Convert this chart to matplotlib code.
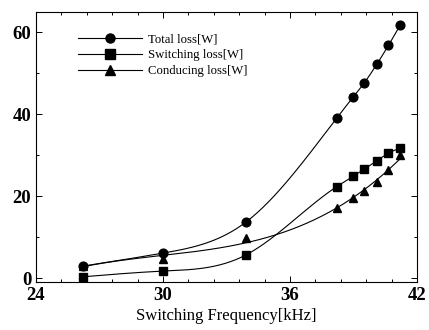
import numpy as np
import matplotlib.pyplot as plt
from matplotlib.ticker import MultipleLocator

# %% Data

freq = np.array([26.2, 30.0, 33.9, 38.2, 39.0, 39.5, 40.1, 40.65, 41.2])
total_loss = np.array([2.9, 6.1, 13.6, 39.0, 44.3, 47.6, 52.2, 56.8, 61.7])
switching_loss = np.array([0.3, 1.7, 5.6, 22.3, 24.9, 26.6, 28.6, 30.5, 31.7])
conducting_loss = np.array([3.0, 4.6, 9.8, 17.0, 19.5, 21.2, 23.4, 26.3, 30.0])

labels = ["Total loss[W]", "Switching loss[W]", "Conducing loss[W]"]
markers = ["o", "s", "^"]


# %% Natural cubic spline (numpy only)

def spline(x, y, xs):
    n = len(x)
    h = np.diff(x)
    A = np.zeros((n - 2, n - 2))
    r = np.zeros(n - 2)
    for i in range(1, n - 1):
        A[i - 1, i - 1] = 2 * (h[i - 1] + h[i])
        if i > 1:
            A[i - 1, i - 2] = h[i - 1]
        if i < n - 2:
            A[i - 1, i] = h[i]
        r[i - 1] = 6 * ((y[i + 1] - y[i]) / h[i] - (y[i] - y[i - 1]) / h[i - 1])
    M = np.zeros(n)
    M[1:-1] = np.linalg.solve(A, r)
    k = np.clip(np.searchsorted(x, xs) - 1, 0, n - 2)
    x0, x1, hk = x[k], x[k + 1], h[k]
    return (M[k] * (x1 - xs) ** 3 / (6 * hk) + M[k + 1] * (xs - x0) ** 3 / (6 * hk)
            + (y[k] / hk - M[k] * hk / 6) * (x1 - xs)
            + (y[k + 1] / hk - M[k + 1] * hk / 6) * (xs - x0))


# %% Plotting

plt.rcParams["font.family"] = ["Liberation Serif", "DejaVu Serif"]

fig = plt.figure(figsize=(4.29, 3.30), dpi=100)
ax = fig.add_axes([0.084, 0.145, 0.888, 0.819])

xs = np.linspace(freq[0], freq[-1], 300)
curves = [spline(freq, total_loss, xs),
          spline(freq, switching_loss, xs),
          np.polyval(np.polyfit(freq, conducting_loss, 3), xs)]

for y, c, m, lab in zip([total_loss, switching_loss, conducting_loss], curves, markers, labels):
    ax.plot(xs, c, "k-", lw=0.8)
    ax.plot(freq, y, "k", ls="none", marker=m, ms=6.3)
    # legend proxy
    ax.plot([], [], "k-", lw=0.8, marker=m, ms=6.5, label=lab)

ax.set_xlim(24, 42)
ax.set_ylim(-1, 65)
ax.xaxis.set_major_locator(MultipleLocator(6))
ax.xaxis.set_minor_locator(MultipleLocator(1.2))
ax.yaxis.set_major_locator(MultipleLocator(20))
ax.yaxis.set_minor_locator(MultipleLocator(10))
ax.tick_params(which="both", direction="in", top=True, right=True, width=0.7)
ax.tick_params(which="major", length=4, labelsize=13.5)
ax.tick_params(which="minor", length=2.5)
for t in ax.get_xticklabels() + ax.get_yticklabels():
    t.set_fontweight("bold")
for s in ax.spines.values():
    s.set_linewidth(0.8)

ax.set_xlabel("Switching Frequency[kHz]", fontsize=12, labelpad=3)

ax.legend(loc="upper left", bbox_to_anchor=(0.08, 0.962), frameon=False,
          fontsize=9.2, handlelength=5.0, labelspacing=0.3, handletextpad=0.5)

plt.savefig("out.png", dpi=100)
